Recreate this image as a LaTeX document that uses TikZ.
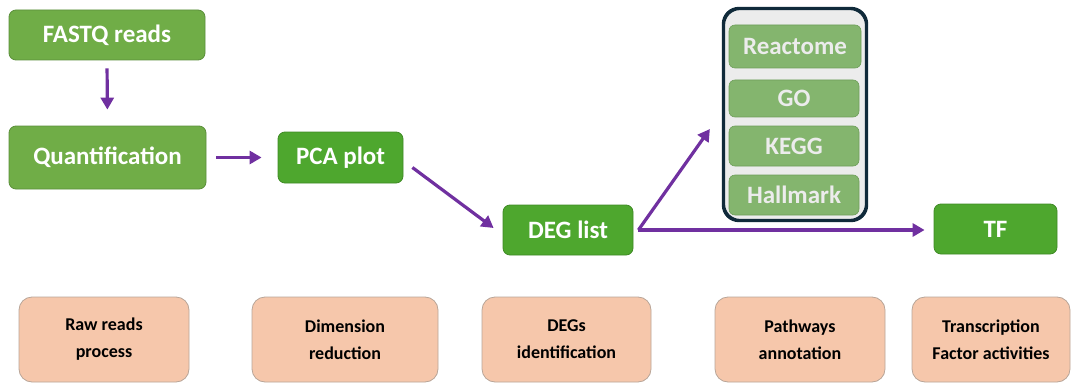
\documentclass[tikz,border=0pt]{standalone}
\usepackage{fontspec}
\setmainfont{Carlito}
\usetikzlibrary{arrows.meta,calc}
\definecolor{gA}{HTML}{70AD47}
\definecolor{gAb}{HTML}{5B8F3B}
\definecolor{gB}{HTML}{4EA72E}
\definecolor{gBb}{HTML}{3F8A25}
\definecolor{gC}{HTML}{84B56E}
\definecolor{gCb}{HTML}{6E9E5A}
\definecolor{peach}{HTML}{F6C7AB}
\definecolor{peachb}{HTML}{B8A598}
\definecolor{arr}{HTML}{7030A0}
\definecolor{cont}{HTML}{102A3A}
\definecolor{contf}{HTML}{ECECEC}
\tikzset{
  x=1pt,y=1pt,
  gbox/.style={draw=gAb, fill=gA, line width=0.8pt, rounded corners=7pt, text=white, font=\bfseries\fontsize{25}{27}\selectfont, inner sep=0pt},
  dbox/.style={draw=gBb, fill=gB, line width=0.8pt, rounded corners=7pt, text=white, font=\bfseries\fontsize{25}{27}\selectfont, inner sep=0pt},
  pbox/.style={draw=gCb, fill=gC, line width=0.6pt, rounded corners=6pt, text=contf, font=\bfseries\fontsize{25}{27}\selectfont, inner sep=0pt, minimum width=130pt},
  stage/.style={draw=peachb, fill=peach, line width=0.8pt, rounded corners=13pt, text=black, font=\bfseries\fontsize{18}{27}\selectfont, align=center, inner sep=0pt, minimum height=85pt},
  flow/.style={draw=arr, line width=3.2pt, -{Triangle[length=12pt,width=13pt]}}
}
\begin{document}
\begin{tikzpicture}
\useasboundingbox (0,0) rectangle (1075,-385);
\node[gbox, minimum width=196pt, minimum height=50pt] (fastq) at (107,-35) {FASTQ reads};
\node[gbox, minimum width=197pt, minimum height=63pt] (quant) at (107.5,-157.5) {Quantification};
\node[dbox, minimum width=125pt, minimum height=51pt] (pca) at (340.5,-157.5) {PCA plot};
\node[dbox, minimum width=130pt, minimum height=50pt] (deg) at (568,-230) {DEG list};
\node[dbox, minimum width=123pt, minimum height=50pt] (tf) at (995.5,-229) {TF};
\node[draw=cont, fill=contf, line width=2.2pt, rounded corners=16pt, minimum width=142pt, minimum height=211pt, inner sep=0pt] (path) at (795,-114.5) {};
\node[pbox, minimum width=132pt, minimum height=43pt] (reac) at (795,-46.5) {Reactome};
\node[pbox, minimum height=37pt] (go) at (794,-98.5) {GO};
\node[pbox, minimum height=40pt] (kegg) at (794,-146) {KEGG};
\node[pbox, minimum height=40pt] (hall) at (794,-195) {Hallmark};
\draw[cont, line width=2.2pt, rounded corners=16pt] (path.north west) rectangle (path.south east);

\node[stage, minimum width=170pt] (s1) at (104,-339.5) {Raw reads\\process};
\node[stage, minimum width=186pt] (s2) at (345,-339.5) {Dimension\\reduction};
\node[stage, minimum width=169pt] (s3) at (566.5,-339.5) {DEGs\\identification};
\node[stage, minimum width=170pt] (s4) at (800,-339.5) {Pathways\\annotation};
\node[stage, minimum width=158pt] (s5) at (991,-339.5) {Transcription\\Factor activities};

\draw[flow, shorten <=8pt, shorten >=16pt] (fastq.south) -- (quant.north);
\draw[flow, shorten <=10pt, shorten >=16pt] (quant.east) -- (pca.west);
\draw[flow] ($(pca.east)+(9,-10)$) -- ($(deg.west)+(-9,2)$);
\coordinate (split) at ($(deg.east)+(5,0)$);
\draw[flow] (split) -- ($(path.west)+(-13,-14.5)$);
\draw[flow, shorten >=9pt] (split) -- (split -| tf.west);
\end{tikzpicture}
\end{document}
